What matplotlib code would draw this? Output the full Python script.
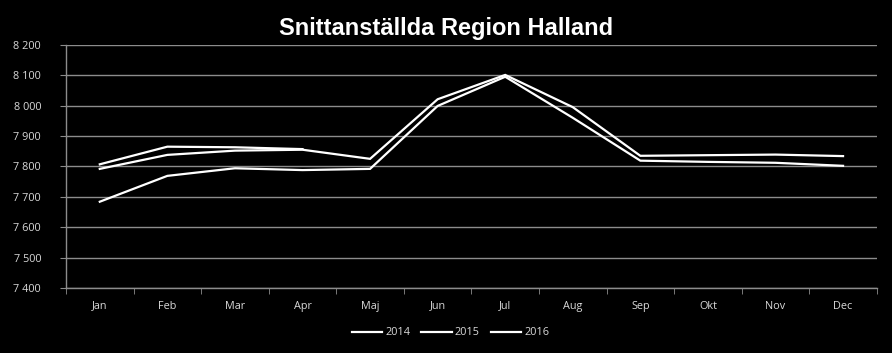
import numpy as np
import matplotlib
matplotlib.use('Agg')
import matplotlib.pyplot as plt
from matplotlib.ticker import FuncFormatter

# Snittanställda per månad
months = ['Jan', 'Feb', 'Mar', 'Apr', 'Maj', 'Jun', 'Jul', 'Aug', 'Sep', 'Okt', 'Nov', 'Dec']
y2014 = [7684, 7769, 7794, 7788, 7792, 7999, 8095, 7960, 7819, 7815, 7812, 7802]
y2015 = [7792, 7838, 7852, 7855, 7825, 8021, 8101, 7995, 7835, 7837, 7839, 7834]
y2016 = [7807, 7865, 7863, 7857, np.nan, np.nan, np.nan, np.nan, np.nan, np.nan, np.nan, np.nan]

series = {'2014': y2014, '2015': y2015, '2016': y2016}

fig = plt.figure(figsize=(8.92, 3.53), dpi=100, facecolor='black')
ax = fig.add_axes([0.074, 0.184, 0.909, 0.689], facecolor='black')

x = np.arange(len(months))
for namn, vals in series.items():
    ax.plot(x, vals, color='white', lw=1.6, label=namn, solid_joinstyle='miter')

grid_col = '#8c8c8c'
txt_col = '#d9d9d9'

ax.set_ylim(7400, 8200)
ax.set_yticks(np.arange(7400, 8201, 100))
ax.yaxis.set_major_formatter(FuncFormatter(lambda v, p: f'{int(v):,}'.replace(',', ' ')))
ax.set_xlim(-0.5, 11.5)
ax.set_xticks(x)
ax.set_xticklabels(months)
ax.set_xticks(np.arange(-0.5, 12, 1), minor=True)

ax.grid(axis='y', color=grid_col, lw=1)
ax.set_axisbelow(True)
for s in ['top', 'right']:
    ax.spines[s].set_visible(False)
for s in ['left', 'bottom']:
    ax.spines[s].set_color(grid_col)
    ax.spines[s].set_linewidth(1)

ax.tick_params(axis='x', which='major', length=0, pad=9, labelsize=7.8, labelcolor=txt_col)
ax.tick_params(axis='x', which='minor', length=4, color=grid_col, direction='out')
ax.tick_params(axis='y', length=4, color=grid_col, pad=14, labelsize=7.8, labelcolor=txt_col)
for lab in ax.get_xticklabels() + ax.get_yticklabels():
    lab.set_family('Open Sans')

fig.text(0.5, 0.92, 'Snittanställda Region Halland', ha='center', va='center',
         color='white', fontsize=17, fontweight='bold', family='Liberation Sans')

leg = fig.legend(loc='center', bbox_to_anchor=(0.505, 0.057), ncol=3, frameon=False,
                 handlelength=2.8, handletextpad=0.3, columnspacing=1.0,
                 prop={'family': 'Open Sans', 'size': 7.8})
for t in leg.get_texts():
    t.set_color(txt_col)

fig.savefig('out.png', dpi=100, facecolor='black')
